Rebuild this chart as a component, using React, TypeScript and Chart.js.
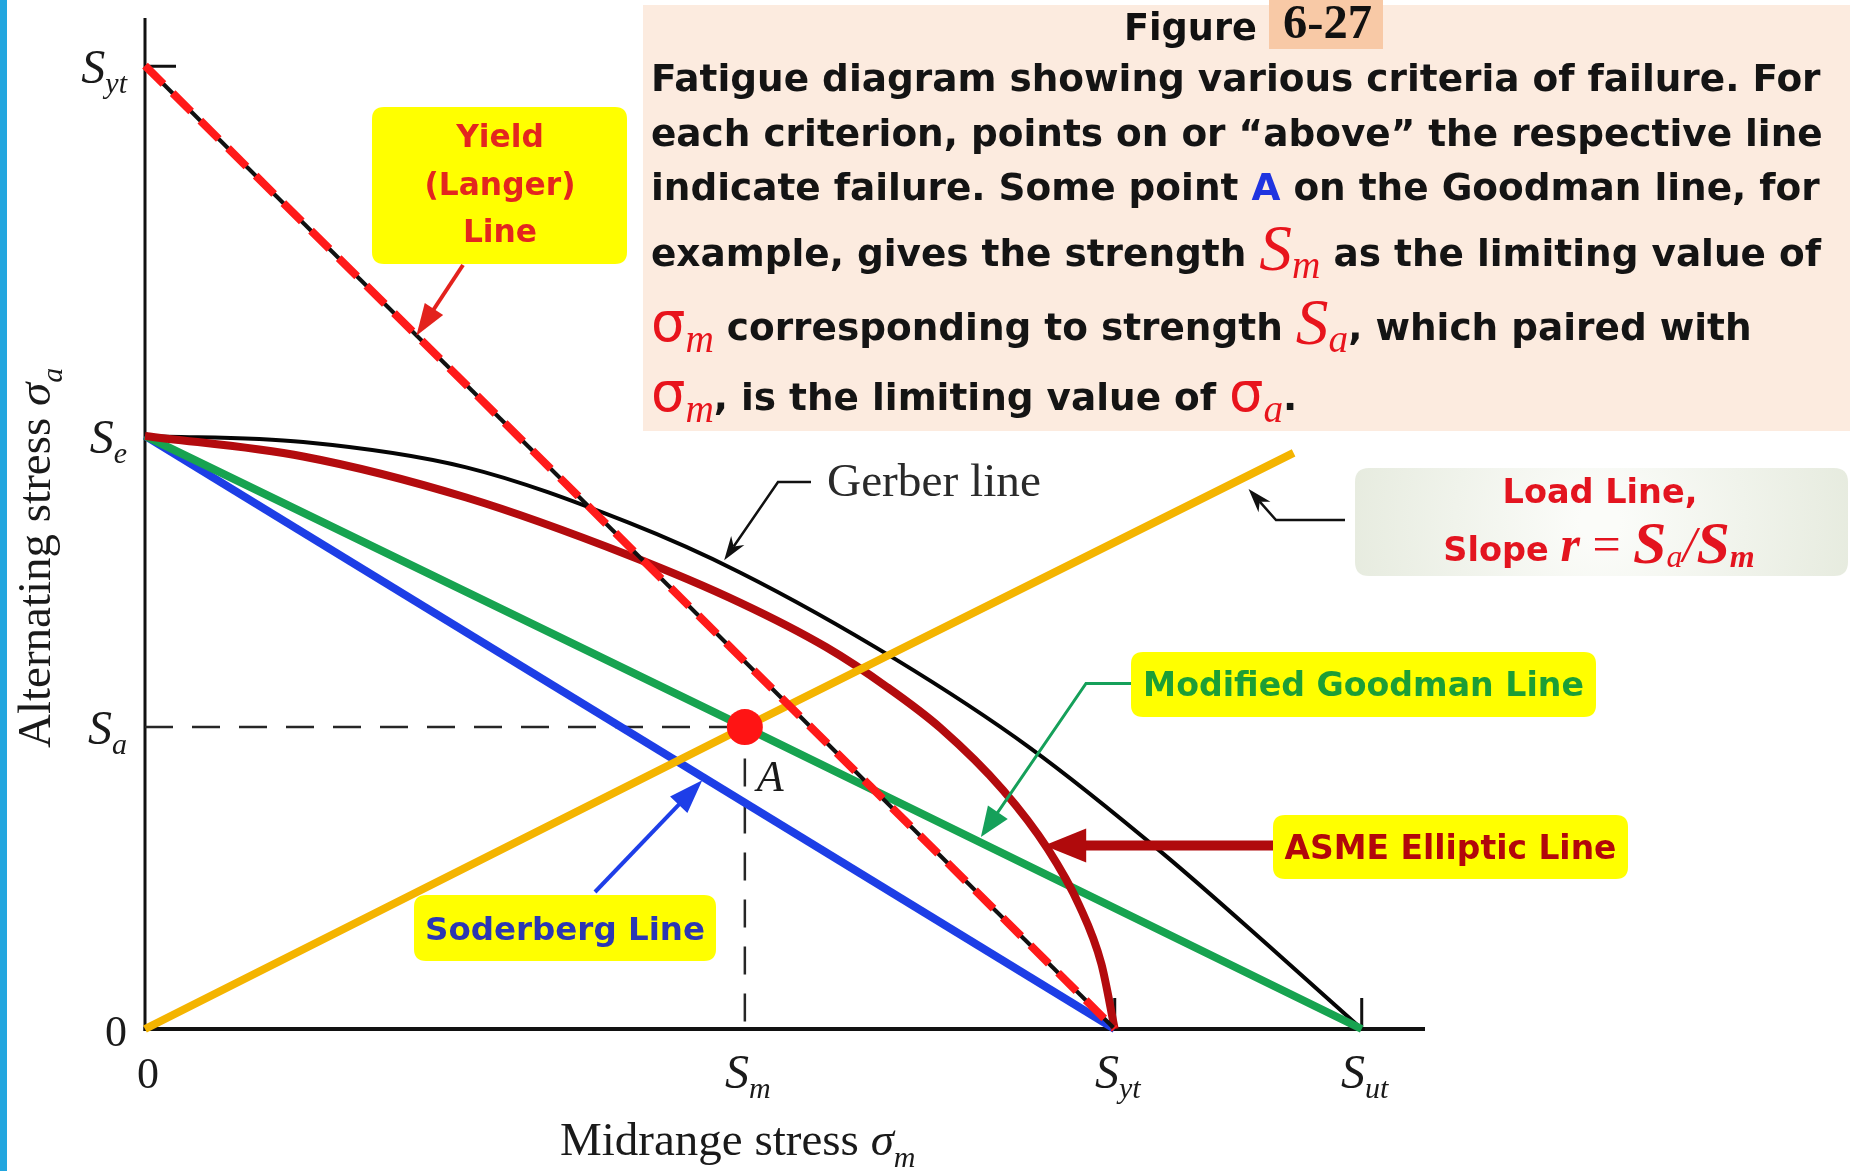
import { useEffect, useRef } from 'react';
import { Chart, registerables } from 'chart.js';

Chart.register(...registerables);

const W = 1854;
const H = 1171;

// ---- strengths, in arbitrary stress units (S_ut = 100) ----
const S_E = 49.1;
const S_YT = 79.7;
const S_UT = 100;
const S_M = 49.3;
const S_A = 25.0;

// plotted range of the two stress axes
const MID_MAX = 105.2;
const ALT_MAX = 83.7;

// ticks and symbolic tick labels [symbol, subscript]
const midTickValues = [0, S_M, S_YT, S_UT];
const midTickLabels: [string, string][] = [['0', ''], ['S', 'm'], ['S', 'yt'], ['S', 'ut']];
const altTickValues = [0, S_A, S_E, S_YT];
const altTickLabels: [string, string][] = [['0', ''], ['S', 'a'], ['S', 'e'], ['S', 'yt']];

// failure criteria: midrange stress (x) against alternating stress (y)
const gerberMid = [0, 13.0, 26.4, 39.8, 48.9, 61.7, 72.7, 83.7, 92.9, 100];
const gerberAlt = [49.1, 48.6, 46.5, 41.9, 37.8, 30.6, 23.3, 14.5, 6.4, 0];

const asmeMid = [0, 13.0, 26.4, 39.8, 48.9, 56.0, 61.0, 65.4, 70.5, 74.2, 76.8, 78.6, 79.7];
const asmeAlt = [49.1, 47.4, 44.0, 39.2, 35.3, 31.6, 28.3, 24.9, 19.8, 14.9, 10.2, 5.4, 0];

const goodmanMid = [0, 49.3, 100];
const goodmanAlt = [49.1, 25.0, 0];

const soderbergMid = [0, 79.7];
const soderbergAlt = [49.1, 0];

const yieldMid = [0, 79.7];
const yieldAlt = [79.75, 0];

const loadMid = [0, 49.3, 94.4];
const loadAlt = [0, 25.0, 47.7];

// operating point A and its dashed guides
const pointAMid = [S_M];
const pointAAlt = [S_A];
const guideSaMid = [0, S_M];
const guideSaAlt = [S_A, S_A];
const guideSmMid = [S_M, S_M];
const guideSmAlt = [22.4, 0];

const SANS = '"DejaVu Sans"';
const SERIF = '"Liberation Serif"';

type Run = { t: string; font: string; color: string; dy?: number };

function runsWidth(ctx: CanvasRenderingContext2D, runs: Run[]) {
  let w = 0;
  for (const r of runs) {
    ctx.font = r.font;
    w += ctx.measureText(r.t).width;
  }
  return w;
}

function drawRuns(ctx: CanvasRenderingContext2D, runs: Run[], x: number, y: number, align: 'left' | 'center' | 'right') {
  const w = runsWidth(ctx, runs);
  let cx = align === 'left' ? x : align === 'center' ? x - w / 2 : x - w;
  ctx.textAlign = 'left';
  ctx.textBaseline = 'alphabetic';
  for (const r of runs) {
    ctx.font = r.font;
    ctx.fillStyle = r.color;
    ctx.fillText(r.t, cx, y + (r.dy || 0));
    cx += ctx.measureText(r.t).width;
  }
}

function fitSize(ctx: CanvasRenderingContext2D, text: string, style: string, family: string, target: number) {
  ctx.font = `${style} 100px ${family}`;
  return (100 * target) / ctx.measureText(text).width;
}

function roundRect(ctx: CanvasRenderingContext2D, x: number, y: number, w: number, h: number, r: number) {
  ctx.beginPath();
  ctx.moveTo(x + r, y);
  ctx.lineTo(x + w - r, y);
  ctx.quadraticCurveTo(x + w, y, x + w, y + r);
  ctx.lineTo(x + w, y + h - r);
  ctx.quadraticCurveTo(x + w, y + h, x + w - r, y + h);
  ctx.lineTo(x + r, y + h);
  ctx.quadraticCurveTo(x, y + h, x, y + h - r);
  ctx.lineTo(x, y + r);
  ctx.quadraticCurveTo(x, y, x + r, y);
  ctx.closePath();
}

function arrow(
  ctx: CanvasRenderingContext2D,
  pts: [number, number][],
  color: string,
  width: number,
  len: number,
  half: number,
  notch = 0
) {
  const n = pts.length;
  const [tx, ty] = pts[n - 1];
  const [fx, fy] = pts[n - 2];
  const a = Math.atan2(ty - fy, tx - fx);
  const c = Math.cos(a);
  const s = Math.sin(a);
  ctx.strokeStyle = color;
  ctx.fillStyle = color;
  ctx.lineWidth = width;
  ctx.lineJoin = 'miter';
  ctx.beginPath();
  ctx.moveTo(pts[0][0], pts[0][1]);
  for (let i = 1; i < n - 1; i++) ctx.lineTo(pts[i][0], pts[i][1]);
  ctx.lineTo(tx - len * 0.7 * c, ty - len * 0.7 * s);
  ctx.stroke();
  const bx = tx - len * c;
  const by = ty - len * s;
  ctx.beginPath();
  ctx.moveTo(tx, ty);
  ctx.lineTo(bx - half * s, by + half * c);
  ctx.lineTo(tx - len * (1 - notch) * c, ty - len * (1 - notch) * s);
  ctx.lineTo(bx + half * s, by - half * c);
  ctx.closePath();
  ctx.fill();
}

function yellowLabel(
  ctx: CanvasRenderingContext2D,
  box: [number, number, number, number],
  text: string,
  color: string,
  textWidth: number
) {
  const [x, y, w, h] = box;
  ctx.fillStyle = '#FFFF00';
  roundRect(ctx, x, y, w, h, 12);
  ctx.fill();
  const size = fitSize(ctx, text, 'bold', SANS, textWidth);
  drawRuns(ctx, [{ t: text, font: `bold ${size}px ${SANS}`, color }], x + w / 2, y + h / 2 + size * 0.36, 'center');
}

const fatigueDecor = {
  id: 'fatigueDecor',
  beforeDatasetsDraw(chart: Chart) {
    const ctx = chart.ctx;
    const xs = chart.scales.x;
    const ys = chart.scales.y;
    const x0 = xs.getPixelForValue(0);
    const y0 = ys.getPixelForValue(0);
    ctx.save();
    // page edge strip
    ctx.fillStyle = '#22A6DF';
    ctx.fillRect(0, 0, 7, H);
    // axes
    ctx.strokeStyle = '#111';
    ctx.lineWidth = 3;
    ctx.beginPath();
    ctx.moveTo(x0, ys.getPixelForValue(ALT_MAX));
    ctx.lineTo(x0, y0 + 2);
    ctx.stroke();
    ctx.lineWidth = 4;
    ctx.beginPath();
    ctx.moveTo(x0 - 1.5, y0);
    ctx.lineTo(xs.getPixelForValue(MID_MAX), y0);
    ctx.stroke();
    // short tick marks
    ctx.lineWidth = 3;
    const ty = ys.getPixelForValue(S_YT);
    ctx.beginPath();
    ctx.moveTo(x0, ty);
    ctx.lineTo(x0 + 31, ty);
    for (const v of [S_YT, S_UT]) {
      const p = xs.getPixelForValue(v);
      ctx.moveTo(p, y0);
      ctx.lineTo(p, y0 - 31);
    }
    ctx.stroke();
    ctx.restore();
  },
  afterDatasetsDraw(chart: Chart) {
    const ctx = chart.ctx;
    const xs = chart.scales.x;
    const ys = chart.scales.y;
    const px = (v: number) => xs.getPixelForValue(v);
    const py = (v: number) => ys.getPixelForValue(v);
    const ink = '#1a1a1a';
    ctx.save();

    // ---- tick labels ----
    const tMain = `italic 48px ${SERIF}`;
    const tSub = `italic 30px ${SERIF}`;
    const tZero = `44px ${SERIF}`;
    altTickValues.forEach((v, i) => {
      const [m, s] = altTickLabels[i];
      drawRuns(
        ctx,
        [
          { t: m, font: s ? tMain : tZero, color: ink },
          { t: s, font: tSub, color: ink, dy: 10 },
        ],
        127,
        py(v) + 17,
        'right'
      );
    });
    midTickValues.forEach((v, i) => {
      const [m, s] = midTickLabels[i];
      drawRuns(
        ctx,
        [
          { t: m, font: s ? tMain : tZero, color: ink },
          { t: s, font: tSub, color: ink, dy: 10 },
        ],
        px(v) + 3,
        1088,
        'center'
      );
    });

    // ---- axis titles ----
    drawRuns(
      ctx,
      [
        { t: 'Midrange stress ', font: `47px ${SERIF}`, color: ink },
        { t: 'σ', font: `italic 47px ${SERIF}`, color: ink },
        { t: 'm', font: `italic 30px ${SERIF}`, color: ink, dy: 12 },
      ],
      560,
      1155,
      'left'
    );
    ctx.save();
    ctx.translate(50, 748);
    ctx.rotate(-Math.PI / 2);
    drawRuns(
      ctx,
      [
        { t: 'Alternating stress ', font: `47px ${SERIF}`, color: ink },
        { t: 'σ', font: `italic 47px ${SERIF}`, color: ink },
        { t: 'a', font: `italic 30px ${SERIF}`, color: ink, dy: 12 },
      ],
      0,
      0,
      'left'
    );
    ctx.restore();

    // ---- point label ----
    drawRuns(ctx, [{ t: 'A', font: `italic 44px ${SERIF}`, color: ink }], px(S_M) + 12, py(S_A) + 64, 'left');

    // ---- Gerber label and arrow ----
    const gSize = fitSize(ctx, 'Gerber line', '', SERIF, 214);
    drawRuns(ctx, [{ t: 'Gerber line', font: `${gSize}px ${SERIF}`, color: '#2a2a2a' }], 827, 496, 'left');
    arrow(ctx, [[811, 482], [778, 482], [px(47.6), py(38.8)]], '#111', 2.5, 24, 8, 0.3);

    // ---- load line label and arrow ----
    const lg = ctx.createRadialGradient(1600, 522, 20, 1600, 522, 270);
    lg.addColorStop(0, '#FBFCF9');
    lg.addColorStop(1, '#E5EADD');
    ctx.fillStyle = lg;
    roundRect(ctx, 1355, 468, 493, 108, 14);
    ctx.fill();
    const red = '#E3141F';
    const lSize = fitSize(ctx, 'Load Line,', 'bold', SANS, 195);
    drawRuns(ctx, [{ t: 'Load Line,', font: `bold ${lSize}px ${SANS}`, color: red }], 1600, 503, 'center');
    drawRuns(
      ctx,
      [
        { t: 'Slope ', font: `bold ${lSize}px ${SANS}`, color: red },
        { t: 'r', font: `bold italic 50px ${SERIF}`, color: red },
        { t: ' = ', font: `50px ${SERIF}`, color: red },
        { t: 'S', font: `bold italic 60px ${SERIF}`, color: red, dy: 2 },
        { t: 'a', font: `italic 32px ${SERIF}`, color: red, dy: 6 },
        { t: '/', font: `italic 50px ${SERIF}`, color: red },
        { t: 'S', font: `bold italic 60px ${SERIF}`, color: red, dy: 2 },
        { t: 'm', font: `bold italic 32px ${SERIF}`, color: red, dy: 6 },
      ],
      1599,
      561,
      'center'
    );
    arrow(ctx, [[1345, 520], [1276, 520], [px(90.7), py(44.7)]], '#111', 2.5, 24, 8, 0.3);

    // ---- criterion labels ----
    arrow(ctx, [[463, 265], [px(22.3), py(57.4)]], '#E3221D', 4, 32, 11);
    ctx.fillStyle = '#FFFF00';
    roundRect(ctx, 372, 107, 255, 157, 12);
    ctx.fill();
    const ySize = fitSize(ctx, '(Langer)', 'bold', SANS, 151);
    const yFont = `bold ${ySize}px ${SANS}`;
    const yColor = '#E3261F';
    drawRuns(ctx, [{ t: 'Yield', font: yFont, color: yColor }], 500, 136 + ySize * 0.36, 'center');
    drawRuns(ctx, [{ t: '(Langer)', font: yFont, color: yColor }], 500, 184 + ySize * 0.36, 'center');
    drawRuns(ctx, [{ t: 'Line', font: yFont, color: yColor }], 500, 231 + ySize * 0.36, 'center');

    arrow(ctx, [[1131, 683.5], [1086, 683.5], [px(68.7), py(15.9)]], '#15A05A', 3, 30, 12);
    yellowLabel(ctx, [1131, 652, 465, 65], 'Modified Goodman Line', '#1C9E36', 441);

    arrow(ctx, [[1273, py(15.2)], [px(73.9), py(15.2)]], '#B00A0C', 10, 42, 17);
    yellowLabel(ctx, [1273, 815, 355, 64], 'ASME Elliptic Line', '#B2070B', 332);

    arrow(ctx, [[595, 892], [px(45.8), py(20.6)]], '#1E3EE8', 4, 34, 12);
    yellowLabel(ctx, [414, 895, 302, 66], 'Soderberg Line', '#2B37B3', 280);

    // ---- caption ----
    ctx.fillStyle = '#FCEBDF';
    ctx.fillRect(643, 5, 1207, 426);
    ctx.fillStyle = '#F8C9A6';
    ctx.fillRect(1269, 0, 114, 49);
    const fSize = fitSize(ctx, 'Figure', 'bold', SANS, 133);
    drawRuns(ctx, [{ t: 'Figure', font: `bold ${fSize}px ${SANS}`, color: '#111' }], 1124, 40, 'left');
    const nSize = fitSize(ctx, '6-27', 'bold', SERIF, 89);
    drawRuns(ctx, [{ t: '6-27', font: `bold ${nSize}px ${SERIF}`, color: '#111' }], 1283, 38, 'left');

    const cs = fitSize(ctx, 'Fatigue diagram showing various criteria of failure. For', 'bold', SANS, 1170);
    const capRed = '#E8141C';
    const style: Record<string, { font: string; color: string; dy?: number }> = {
      txt: { font: `bold ${cs}px ${SANS}`, color: '#141414' },
      blue: { font: `bold ${cs}px ${SANS}`, color: '#1F34E0' },
      S: { font: `italic ${cs * 1.75}px ${SERIF}`, color: capRed, dy: 4 },
      sub: { font: `italic ${cs * 1.05}px ${SERIF}`, color: capRed, dy: 12 },
      sig: { font: `${cs * 1.45}px ${SANS}`, color: capRed, dy: 1 },
    };
    const caption: [string, string][][] = [
      [['txt', 'Fatigue diagram showing various criteria of failure. For']],
      [['txt', 'each criterion, points on or “above” the respective line']],
      [['txt', 'indicate failure. Some point '], ['blue', 'A'], ['txt', ' on the Goodman line, for']],
      [['txt', 'example, gives the strength '], ['S', 'S'], ['sub', 'm'], ['txt', ' as the limiting value of']],
      [['sig', 'σ'], ['sub', 'm'], ['txt', ' corresponding to strength '], ['S', 'S'], ['sub', 'a'], ['txt', ', which paired with']],
      [['sig', 'σ'], ['sub', 'm'], ['txt', ', is the limiting value of '], ['sig', 'σ'], ['sub', 'a'], ['txt', '.']],
    ];
    const baselines = [91, 146, 200, 266, 340, 410];
    caption.forEach((line, i) => {
      drawRuns(
        ctx,
        line.map(([k, t]) => ({ t, ...style[k] })),
        651,
        baselines[i],
        'left'
      );
    });

    ctx.restore();
  },
};

const series = (label: string, xs: number[], ys: number[], color: string, width: number, extra: object = {}) => ({
  label,
  data: xs.map((x, i) => ({ x, y: ys[i] })),
  borderColor: color,
  backgroundColor: color,
  borderWidth: width,
  pointRadius: 0,
  fill: false,
  tension: 0,
  clip: false as const,
  ...extra,
});

export default function App() {
  const ref = useRef<HTMLCanvasElement>(null);

  useEffect(() => {
    const canvas = ref.current;
    if (!canvas) return;
    const chart = new Chart(canvas, {
      type: 'line',
      data: {
        datasets: [
          series('Point A', pointAMid, pointAAlt, '#FF1414', 0, {
            showLine: false,
            pointRadius: 18,
            pointBackgroundColor: '#FF1414',
            pointBorderWidth: 0,
          }),
          series('Yield (Langer) line', yieldMid, yieldAlt, '#FF1A1A', 8, { borderDash: [26, 13] }),
          series('Yield (Langer) core', yieldMid, yieldAlt, '#111111', 4),
          series('Load line', loadMid, loadAlt, '#F4B400', 8),
          series('ASME elliptic', asmeMid, asmeAlt, '#B30B0E', 8, { cubicInterpolationMode: 'monotone', borderJoinStyle: 'round' }),
          series('Modified Goodman', goodmanMid, goodmanAlt, '#17A350', 8, { borderJoinStyle: 'round' }),
          series('Soderberg', soderbergMid, soderbergAlt, '#1D3EE6', 8, { borderJoinStyle: 'round' }),
          series('Gerber', gerberMid, gerberAlt, '#050505', 4, { cubicInterpolationMode: 'monotone', borderJoinStyle: 'round' }),
          series('S_a guide', guideSaMid, guideSaAlt, '#262626', 2.5, { borderDash: [28, 19] }),
          series('S_m guide', guideSmMid, guideSmAlt, '#262626', 2.5, { borderDash: [28, 19] }),
        ],
      },
      options: {
        responsive: false,
        animation: false,
        devicePixelRatio: 1,
        events: [],
        layout: { padding: { left: 145, right: W - 1425, top: 11, bottom: H - 1029 } },
        plugins: {
          legend: { display: false },
          tooltip: { enabled: false },
        },
        scales: {
          x: { type: 'linear', min: 0, max: MID_MAX, display: false },
          y: { type: 'linear', min: 0, max: ALT_MAX, display: false },
        },
      },
      plugins: [fatigueDecor],
    });
    return () => chart.destroy();
  }, []);

  return (
    <div style={{ position: 'absolute', left: 0, top: 0, width: W, height: H, background: '#ffffff' }}>
      <canvas ref={ref} width={W} height={H} style={{ display: 'block', width: W, height: H }} />
    </div>
  );
}
